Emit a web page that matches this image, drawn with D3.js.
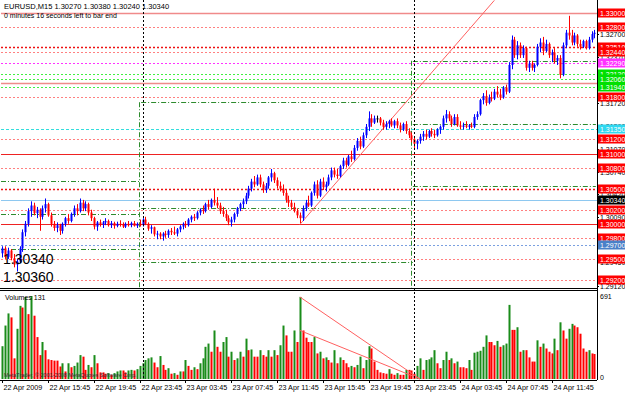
<!DOCTYPE html>
<html lang="en">
<head>
<meta charset="UTF-8" />
<title>EURUSD,M15</title>
<script src="https://cdn.jsdelivr.net/npm/d3@7/dist/d3.min.js"></script>
<style>
  body { margin: 0; background: #fff; }
  svg { display: block; }
  text { font-family: "Liberation Sans", Arial, sans-serif; }
</style>
</head>
<body>
<div id="wrapper"></div>
<script>
// ---- data (EURUSD, M15, 22 Apr 11:45 .. 24 Apr) ----
const opens = [1.2958,1.2965,1.2953,1.2962,1.2951,1.2942,1.2946,1.2965,1.2988,1.3000,1.3018,1.3026,1.3015,1.3020,1.3010,1.3022,1.3028,1.3012,1.3000,1.2994,
1.2998,1.2990,1.3000,1.3008,1.3004,1.3014,1.3022,1.3018,1.3030,1.3022,1.3028,1.3016,1.3008,1.2996,1.3002,1.2999,1.3002,1.3004,1.2998,1.3001,
1.2997,1.3000,1.2999,1.2996,1.3000,1.2998,1.3001,1.2997,1.3000,1.2998,1.3006,1.3000,1.2993,1.2995,1.2985,1.2986,1.2982,1.2986,1.2984,1.2990,
1.2988,1.2986,1.2992,1.2996,1.3000,1.2998,1.3006,1.3010,1.3008,1.3016,1.3020,1.3018,1.3028,1.3024,1.3034,1.3030,1.3026,1.3018,1.3014,1.3008,
1.3002,1.3006,1.3014,1.3022,1.3028,1.3032,1.3040,1.3050,1.3060,1.3056,1.3066,1.3056,1.3048,1.3054,1.3066,1.3072,1.3062,1.3054,1.3050,1.3044,
1.3034,1.3030,1.3024,1.3018,1.3012,1.3008,1.3022,1.3030,1.3026,1.3044,1.3056,1.3040,1.3060,1.3052,1.3056,1.3066,1.3076,1.3070,1.3068,1.3082,
1.3090,1.3084,1.3096,1.3092,1.3108,1.3118,1.3110,1.3126,1.3138,1.3150,1.3144,1.3150,1.3150,1.3144,1.3138,1.3142,1.3146,1.3140,1.3146,1.3140,
1.3134,1.3142,1.3132,1.3126,1.3120,1.3114,1.3118,1.3124,1.3128,1.3124,1.3132,1.3128,1.3126,1.3134,1.3138,1.3150,1.3156,1.3150,1.3142,1.3152,
1.3140,1.3138,1.3140,1.3138,1.3140,1.3138,1.3152,1.3156,1.3176,1.3182,1.3172,1.3180,1.3178,1.3188,1.3184,1.3180,1.3194,1.3188,1.3226,1.3262,
1.3240,1.3254,1.3240,1.3250,1.3222,1.3228,1.3222,1.3226,1.3252,1.3258,1.3246,1.3256,1.3240,1.3244,1.3232,1.3236,1.3212,1.3254,1.3272,1.3268,
1.3258,1.3268,1.3256,1.3252,1.3260,1.3250,1.3262,1.3270];
const highs = [1.2968,1.2968,1.2966,1.2964,1.2957,1.2950,1.2968,1.2992,1.3004,1.3022,1.3032,1.3030,1.3024,1.3022,1.3026,1.3036,1.3030,1.3016,1.3004,1.3002,
1.3000,1.3002,1.3010,1.3014,1.3016,1.3026,1.3028,1.3036,1.3034,1.3032,1.3030,1.3020,1.3010,1.3004,1.3006,1.3004,1.3008,1.3006,1.3004,1.3003,
1.3003,1.3005,1.3002,1.3002,1.3004,1.3003,1.3004,1.3002,1.3006,1.3008,1.3010,1.3002,1.2998,1.2996,1.2990,1.2988,1.2988,1.2990,1.2992,1.2994,
1.2996,1.2994,1.2998,1.3002,1.3004,1.3008,1.3012,1.3014,1.3018,1.3022,1.3026,1.3030,1.3034,1.3036,1.3050,1.3038,1.3030,1.3024,1.3020,1.3012,
1.3010,1.3016,1.3024,1.3030,1.3036,1.3044,1.3054,1.3064,1.3068,1.3070,1.3070,1.3060,1.3058,1.3068,1.3078,1.3074,1.3066,1.3060,1.3056,1.3048,
1.3040,1.3034,1.3030,1.3022,1.3016,1.3026,1.3034,1.3040,1.3046,1.3060,1.3062,1.3064,1.3066,1.3060,1.3070,1.3080,1.3080,1.3078,1.3084,1.3094,
1.3094,1.3098,1.3104,1.3112,1.3122,1.3124,1.3130,1.3142,1.3160,1.3156,1.3154,1.3154,1.3152,1.3148,1.3146,1.3148,1.3150,1.3148,1.3150,1.3144,
1.3144,1.3146,1.3136,1.3130,1.3124,1.3120,1.3128,1.3132,1.3134,1.3134,1.3136,1.3134,1.3136,1.3140,1.3154,1.3162,1.3160,1.3154,1.3156,1.3156,
1.3146,1.3144,1.3146,1.3142,1.3144,1.3156,1.3160,1.3178,1.3186,1.3190,1.3184,1.3188,1.3192,1.3196,1.3192,1.3196,1.3198,1.3230,1.3268,1.3266,
1.3260,1.3258,1.3254,1.3252,1.3232,1.3232,1.3228,1.3256,1.3264,1.3266,1.3262,1.3258,1.3248,1.3250,1.3240,1.3240,1.3258,1.3276,1.3296,1.3276,
1.3272,1.3270,1.3262,1.3262,1.3262,1.3266,1.3274,1.3276];
const lows = [1.2952,1.2950,1.2950,1.2948,1.2938,1.2932,1.2944,1.2960,1.2982,1.2996,1.3010,1.3012,1.3008,1.2990,1.3006,1.3016,1.3010,1.2996,1.2990,1.2988,
1.2984,1.2986,1.2996,1.3000,1.3002,1.3010,1.3012,1.3016,1.3018,1.3018,1.3012,1.3004,1.2992,1.2990,1.2996,1.2994,1.2998,1.2996,1.2994,1.2993,
1.2995,1.2996,1.2994,1.2994,1.2996,1.2995,1.2996,1.2994,1.2996,1.2996,1.2998,1.2990,1.2986,1.2982,1.2978,1.2978,1.2976,1.2980,1.2980,1.2984,
1.2984,1.2982,1.2988,1.2992,1.2994,1.2996,1.3002,1.3004,1.3006,1.3012,1.3014,1.3016,1.3020,1.3022,1.3026,1.3022,1.3014,1.3010,1.3004,1.2998,
1.2996,1.3002,1.3010,1.3018,1.3022,1.3028,1.3036,1.3046,1.3052,1.3054,1.3052,1.3044,1.3044,1.3050,1.3060,1.3058,1.3050,1.3046,1.3040,1.3030,
1.3024,1.3020,1.3016,1.3008,1.3001,1.3004,1.3018,1.3024,1.3024,1.3040,1.3036,1.3038,1.3048,1.3046,1.3054,1.3062,1.3066,1.3064,1.3066,1.3078,
1.3080,1.3082,1.3088,1.3090,1.3104,1.3106,1.3108,1.3122,1.3132,1.3138,1.3142,1.3144,1.3140,1.3134,1.3134,1.3136,1.3138,1.3136,1.3136,1.3130,
1.3132,1.3128,1.3122,1.3116,1.3108,1.3106,1.3114,1.3118,1.3120,1.3122,1.3124,1.3122,1.3124,1.3128,1.3134,1.3144,1.3146,1.3138,1.3140,1.3138,
1.3134,1.3134,1.3136,1.3134,1.3136,1.3136,1.3148,1.3154,1.3170,1.3168,1.3170,1.3174,1.3176,1.3180,1.3176,1.3178,1.3184,1.3186,1.3220,1.3236,
1.3234,1.3236,1.3236,1.3218,1.3216,1.3218,1.3216,1.3224,1.3244,1.3240,1.3244,1.3236,1.3230,1.3228,1.3226,1.3207,1.3210,1.3250,1.3262,1.3254,
1.3254,1.3252,1.3248,1.3250,1.3248,1.3248,1.3258,1.3264];
const closes = [1.2965,1.2953,1.2962,1.2951,1.2942,1.2946,1.2965,1.2988,1.3000,1.3018,1.3026,1.3015,1.3020,1.3010,1.3022,1.3028,1.3012,1.3000,1.2994,1.2998,
1.2990,1.3000,1.3008,1.3004,1.3014,1.3022,1.3018,1.3030,1.3022,1.3028,1.3016,1.3008,1.2996,1.3002,1.2999,1.3002,1.3004,1.2998,1.3001,1.2997,
1.3000,1.2999,1.2996,1.3000,1.2998,1.3001,1.2997,1.3000,1.2998,1.3006,1.3000,1.2993,1.2995,1.2985,1.2986,1.2982,1.2986,1.2984,1.2990,1.2988,
1.2986,1.2992,1.2996,1.3000,1.2998,1.3006,1.3010,1.3008,1.3016,1.3020,1.3018,1.3028,1.3024,1.3034,1.3030,1.3026,1.3018,1.3014,1.3008,1.3002,
1.3006,1.3014,1.3022,1.3028,1.3032,1.3040,1.3050,1.3060,1.3056,1.3066,1.3056,1.3048,1.3054,1.3066,1.3072,1.3062,1.3054,1.3050,1.3044,1.3034,
1.3030,1.3024,1.3018,1.3012,1.3008,1.3022,1.3030,1.3026,1.3044,1.3056,1.3040,1.3060,1.3052,1.3056,1.3066,1.3076,1.3070,1.3068,1.3082,1.3090,
1.3084,1.3096,1.3092,1.3108,1.3118,1.3110,1.3126,1.3138,1.3150,1.3144,1.3150,1.3150,1.3144,1.3138,1.3142,1.3146,1.3140,1.3146,1.3140,1.3134,
1.3142,1.3132,1.3126,1.3120,1.3114,1.3118,1.3124,1.3128,1.3124,1.3132,1.3128,1.3126,1.3134,1.3138,1.3150,1.3156,1.3150,1.3142,1.3152,1.3140,
1.3138,1.3140,1.3138,1.3140,1.3138,1.3152,1.3156,1.3176,1.3182,1.3172,1.3180,1.3178,1.3188,1.3184,1.3180,1.3194,1.3188,1.3226,1.3262,1.3240,
1.3254,1.3240,1.3250,1.3222,1.3228,1.3222,1.3226,1.3252,1.3258,1.3246,1.3256,1.3240,1.3244,1.3232,1.3236,1.3212,1.3254,1.3272,1.3268,1.3258,
1.3268,1.3256,1.3252,1.3260,1.3250,1.3262,1.3270,1.3272];
const volumes = [273,445,546,513,172,418,609,595,683,540,691,527,349,199,308,240,164,158,153,153,
104,131,63,131,98,109,137,199,186,76,117,98,199,131,55,55,44,49,35,49,
63,71,71,55,71,76,71,82,109,131,158,172,180,137,98,191,117,76,90,44,
49,35,63,63,158,109,76,98,82,131,172,268,295,227,404,268,227,308,349,186,
227,158,172,227,186,336,240,246,186,186,240,199,186,240,186,240,199,281,445,363,
227,227,404,308,683,404,344,308,308,349,213,227,172,180,158,137,240,131,180,158,
131,98,109,98,117,186,90,158,273,254,145,76,55,49,44,82,44,35,49,35,
35,76,76,71,44,109,172,76,158,164,180,240,131,90,158,227,158,172,131,145,
98,98,90,158,76,219,227,235,268,363,308,308,281,317,268,281,295,617,409,409,
431,227,240,240,180,145,145,322,268,295,254,227,213,336,240,472,404,336,418,459,
445,431,377,254,227,240,213,208];

const timeLabels = ["22 Apr 2009","22 Apr 15:45","22 Apr 19:45","22 Apr 23:45","23 Apr 03:45","23 Apr 07:45",
  "23 Apr 11:45","23 Apr 15:45","23 Apr 19:45","23 Apr 23:45","24 Apr 03:45","24 Apr 07:45","24 Apr 11:45"];
const timeLabelBars = [0,16,32,48,64,80,96,112,128,144,160,176,192];

// horizontal levels: price and the kind of line drawn there
const levelPrices = [1.3300,1.3280,1.3251,1.3244,1.3229,1.3213,1.3206,1.3200,1.3194,1.3180,1.3135,1.3120,1.3100,1.3080,1.3050,1.3034,1.3020,1.3000,1.2980,1.2970,1.2950,1.2920];
const levelKinds  = ["round","level","strong","level","magenta","green","green","round","green","level","cyan","level","major","level","strong","bid","level","major","level","blue","level","level"];
const labelKinds  = ["red","red","red","red","magenta","green","green",null,"green","red","cyan","red","red","red","red","black","red","red","red","blue","red","red"];
const axisGridPrices = [1.3270,1.3237,1.3205,1.3172,1.3139,1.3107,1.3074,1.3042,1.3009,1.2977,1.2945,1.2912];

// daily pivot segments: first bar, last bar, price
const pivotStart = [0,0,0,49,49,49,144,144,144];
const pivotEnd   = [48,48,48,143,143,143,207,207,207];
const pivotPrice = [1.3061,1.3014,1.2964,1.3173,1.3022,1.2946,1.3232,1.3142,1.3054];
const daySeparatorBars = [49,144];

// trend lines: [bar, price] pairs
const priceTrend = [[104,1.2999],[172,1.3318]];
const volumeTrends = [[[104,683],[146,0]],[[104,404],[146,0]]];

const headerLine1 = "EURUSD,M15  1.30270 1.30380 1.30240 1.30340";
const headerLine2 = "0 minutes 16 seconds left to bar end";
const bigLabels = ["1.30340","1.30360"];

// ---- layout ----
const width = 625, height = 396;
const plotLeft = 1, plotRight = 597;
const mainTop = 0, mainBottom = 288;
const volTop = 291, volBottom = 380;

const svg = d3.select("#wrapper").append("svg").attr("width", width).attr("height", height);

const n = closes.length;
const xScale = d3.scaleLinear().domain([-0.5, n - 0.5]).range([plotLeft, plotLeft + 2.86 * n]);
const yScale = d3.scaleLinear().domain([1.29086, 1.33185]).range([mainBottom, mainTop]);
const vScale = d3.scaleLinear().domain([0, 691]).range([volBottom - 1, volTop + 5]);

svg.append("defs").append("clipPath").attr("id", "mainClip")
  .append("rect").attr("x", plotLeft).attr("y", mainTop).attr("width", plotRight - plotLeft).attr("height", mainBottom - mainTop);
svg.append("defs").append("clipPath").attr("id", "volClip")
  .append("rect").attr("x", plotLeft).attr("y", volTop).attr("width", plotRight - plotLeft).attr("height", volBottom - volTop);

const main = svg.append("g").attr("clip-path", "url(#mainClip)");
const vol = svg.append("g").attr("clip-path", "url(#volClip)");

const levelStyle = {
  round:   { stroke: "#f08a8a", width: 1.5, dash: null },
  major:   { stroke: "#ee2222", width: 1.2, dash: null },
  level:   { stroke: "#ff8080", width: 1, dash: "2,2" },
  strong:  { stroke: "#ee1111", width: 1.4, dash: "2,2" },
  magenta: { stroke: "#ff33ff", width: 1, dash: "2,2" },
  green:   { stroke: "#44ee44", width: 1, dash: "2,2" },
  cyan:    { stroke: "#33dddd", width: 1, dash: "3,2" },
  bid:     { stroke: "#8ec8f0", width: 1.2, dash: null },
  blue:    { stroke: "#7aa0e0", width: 1, dash: "2,2" },
};
const labelFill = { red: "#ff0000", green: "#00e000", magenta: "#ff30ff", cyan: "#30d8f0", black: "#000000", blue: "#4a80c8" };

// levels
levelPrices.forEach((p, i) => {
  const s = levelStyle[levelKinds[i]];
  main.append("line")
    .attr("x1", plotLeft).attr("x2", plotRight)
    .attr("y1", Math.round(yScale(p)) + 0.5).attr("y2", Math.round(yScale(p)) + 0.5)
    .attr("stroke", s.stroke).attr("stroke-width", s.width)
    .attr("stroke-dasharray", s.dash);
});

// daily pivots and day separators
pivotPrice.forEach((p, i) => {
  main.append("line")
    .attr("x1", xScale(pivotStart[i] - 0.5)).attr("x2", xScale(pivotEnd[i] + 0.5))
    .attr("y1", Math.round(yScale(p)) + 0.5).attr("y2", Math.round(yScale(p)) + 0.5)
    .attr("stroke", "#2e8b2e").attr("stroke-width", 1).attr("stroke-dasharray", "5,2,1,2");
});
daySeparatorBars.forEach(b => {
  const dayTop = d3.max(pivotPrice.filter((p, i) => pivotStart[i] === b));
  const x = Math.round(xScale(b - 0.5)) - 1.5;
  main.append("line").attr("x1", x).attr("x2", x)
    .attr("y1", yScale(dayTop)).attr("y2", mainBottom)
    .attr("stroke", "#2e8b2e").attr("stroke-dasharray", "5,2,1,2");
  const xs = Math.round(xScale(b)) + 0.5;
  svg.append("line").attr("x1", xs).attr("x2", xs).attr("y1", mainTop).attr("y2", volBottom)
    .attr("stroke", "#000").attr("stroke-dasharray", "2,2");
});

// price trend line
const lineGen = d3.line().x(d => xScale(d[0])).y(d => yScale(d[1]));
main.append("path").attr("d", lineGen(priceTrend)).attr("fill", "none").attr("stroke", "#ff6060").attr("stroke-width", 1);

// candles
const idx = d3.range(n);
const candleColor = i => closes[i] > opens[i] ? "#0000ff" : closes[i] < opens[i] ? "#ff0000" : "#000000";
main.selectAll(".wick").data(idx).join("line")
  .attr("x1", i => Math.round(xScale(i)) + 0.5).attr("x2", i => Math.round(xScale(i)) + 0.5)
  .attr("y1", i => yScale(highs[i])).attr("y2", i => yScale(lows[i]))
  .attr("stroke", candleColor).attr("stroke-width", 1);
main.selectAll(".body").data(idx).join("rect")
  .attr("x", i => Math.round(xScale(i)) - 0.5).attr("width", 2)
  .attr("y", i => yScale(Math.max(opens[i], closes[i])))
  .attr("height", i => Math.max(1, Math.abs(yScale(opens[i]) - yScale(closes[i]))))
  .attr("fill", candleColor);

// big labels bottom-left
bigLabels.forEach((t, i) => {
  main.append("text").attr("x", 3).attr("y", 264 + i * 18).attr("font-size", 14)
    .attr("fill", "#000").text(t);
});

// header texts
svg.append("text").attr("x", 4).attr("y", 9).attr("font-size", 7.5).attr("fill", "#000").text(headerLine1);
svg.append("text").attr("x", 4).attr("y", 18).attr("font-size", 7).attr("fill", "#000").text(headerLine2);

// volumes
const volColor = i => (i === 0 || volumes[i] > volumes[i - 1]) ? "#1a8c1a" : "#ff0000";
vol.selectAll(".vbar").data(idx).join("rect")
  .attr("x", i => Math.round(xScale(i)) - 0.5).attr("width", 2)
  .attr("y", i => vScale(volumes[i])).attr("height", i => vScale(0) - vScale(volumes[i]))
  .attr("fill", volColor);
const vLine = d3.line().x(d => xScale(d[0])).y(d => vScale(d[1]));
volumeTrends.forEach(t => vol.append("path").attr("d", vLine(t)).attr("fill", "none").attr("stroke", "#ff6060"));
svg.append("text").attr("x", 5).attr("y", 300).attr("font-size", 7).text("Volumes 131");
svg.append("text").attr("x", 4).attr("y", 377).attr("font-size", 5.5).attr("fill", "#333")
  .text("MetaTrader, \u00a9 2001-2008 MetaQuotes Software Corp.");

// frames
svg.append("line").attr("x1", 0).attr("x2", plotRight).attr("y1", mainBottom + 0.5).attr("y2", mainBottom + 0.5).attr("stroke", "#000");
svg.append("line").attr("x1", 0).attr("x2", plotRight).attr("y1", volTop - 0.5).attr("y2", volTop - 0.5).attr("stroke", "#000");
svg.append("line").attr("x1", 0).attr("x2", plotRight).attr("y1", volBottom + 0.5).attr("y2", volBottom + 0.5).attr("stroke", "#000");
svg.append("line").attr("x1", plotRight + 0.5).attr("x2", plotRight + 0.5).attr("y1", 0).attr("y2", volBottom).attr("stroke", "#000");

// right price axis: grid labels then coloured level labels
const axis = svg.append("g").attr("font-size", 7);
axisGridPrices.forEach(p => {
  axis.append("text").attr("x", plotRight + 3).attr("y", yScale(p) + 3).attr("fill", "#000").text(p.toFixed(5));
  axis.append("line").attr("x1", plotRight).attr("x2", plotRight + 2).attr("y1", Math.round(yScale(p)) + 0.5).attr("y2", Math.round(yScale(p)) + 0.5).attr("stroke", "#000");
});
levelPrices.forEach((p, i) => {
  const k = labelKinds[i];
  if (!k) return;
  const y = Math.round(yScale(p));
  axis.append("rect").attr("x", plotRight + 1).attr("y", y - 4.5).attr("width", width - plotRight - 1).attr("height", 9).attr("fill", labelFill[k]);
  axis.append("text").attr("x", plotRight + 3).attr("y", y + 2.5).attr("fill", "#fff").text(p.toFixed(5));
});

// volume axis
svg.append("text").attr("x", plotRight + 3).attr("y", vScale(691) + 3).attr("font-size", 7).text("691");
svg.append("text").attr("x", plotRight + 3).attr("y", vScale(0) + 1).attr("font-size", 7).text("0");

// time axis
timeLabelBars.forEach((b, i) => {
  const x = Math.round(xScale(b)) + 0.5;
  svg.append("line").attr("x1", x).attr("x2", x).attr("y1", volBottom).attr("y2", volBottom + 3).attr("stroke", "#000");
  svg.append("text").attr("x", x + 1).attr("y", volBottom + 10).attr("font-size", 7.2).text(timeLabels[i]);
});
</script>
</body>
</html>
